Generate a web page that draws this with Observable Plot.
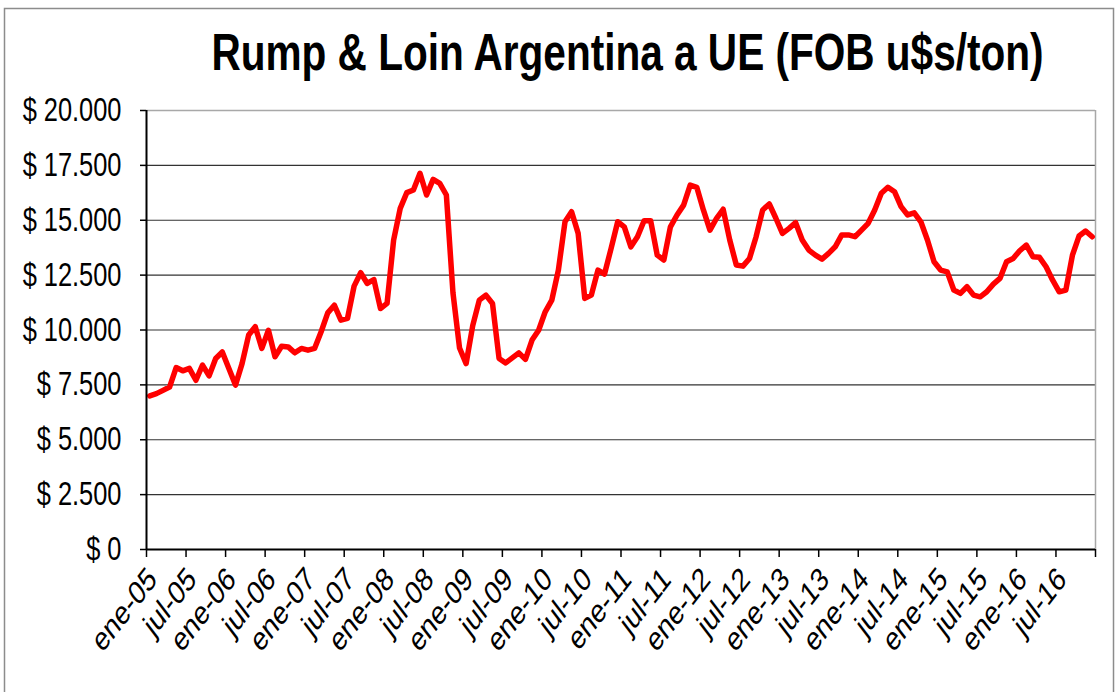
<!DOCTYPE html>
<html><head><meta charset="utf-8">
<script src="https://cdn.jsdelivr.net/npm/d3@7"></script>
<script src="https://cdn.jsdelivr.net/npm/@observablehq/plot@0.6"></script>
<style>body{margin:0;background:#fff;} #chart{position:relative;width:1117px;height:692px;}</style>
</head><body><div id="chart"></div>
<script>
const titleText = "Rump & Loin Argentina a UE (FOB u$s/ton)";
const tickLabels = ["ene-05","jul-05","ene-06","jul-06","ene-07","jul-07","ene-08","jul-08","ene-09","jul-09","ene-10","jul-10","ene-11","jul-11","ene-12","jul-12","ene-13","jul-13","ene-14","jul-14","ene-15","jul-15","ene-16","jul-16"];
const yTicks = [0, 2500, 5000, 7500, 10000, 12500, 15000, 17500, 20000];
// monthly FOB prices (u$s/ton), Jan..Dec
const v2005 = [7000, 7100, 7250, 7400, 8290, 8140, 8250, 7710, 8400, 7910, 8700, 9000];
const v2006 = [8250, 7490, 8470, 9770, 10150, 9160, 9990, 8780, 9260, 9230, 8960, 9160];
const v2007 = [9080, 9160, 9920, 10780, 11130, 10450, 10530, 12000, 12610, 12120, 12300, 10980];
const v2008 = [11210, 14100, 15540, 16260, 16380, 17140, 16150, 16860, 16680, 16150, 11700, 9180];
const v2009 = [8470, 10200, 11360, 11590, 11210, 8700, 8500, 8730, 8960, 8660, 9540, 9990];
const v2010 = [10830, 11360, 12730, 14930, 15390, 14400, 11440, 11590, 12730, 12550, 13720, 14930];
const v2011 = [14700, 13790, 14250, 14980, 14980, 13410, 13190, 14700, 15240, 15690, 16600, 16500];
const v2012 = [15470, 14550, 15090, 15500, 14100, 12960, 12910, 13260, 14250, 15470, 15740, 15090];
const v2013 = [14400, 14630, 14890, 14100, 13640, 13410, 13230, 13490, 13790, 14330, 14330, 14250];
const v2014 = [14550, 14860, 15470, 16230, 16500, 16300, 15620, 15240, 15340, 14930, 14100, 13110];
const v2015 = [12730, 12650, 11820, 11670, 11970, 11590, 11510, 11740, 12090, 12350, 13110, 13260];
const v2016 = [13610, 13870, 13340, 13310, 12880, 12270, 11740, 11820, 13410, 14280, 14510, 14250];

const values = [...v2005, ...v2006, ...v2007, ...v2008, ...v2009, ...v2010, ...v2011, ...v2012, ...v2013, ...v2014, ...v2015, ...v2016];
const data = values.map((v, i) => ({month: i, value: v}));
const xTicks = d3.range(0, 145, 6);
const SX = 0.77;
const fmt = d => "$ " + String(d).replace(/\B(?=(\d{3})+(?!\d))/g, ".");

const plot = Plot.plot({
  width: 1117, height: 692,
  marginLeft: 146, marginRight: 22, marginTop: 110, marginBottom: 143,
  style: {fontFamily: "'Liberation Sans', Arial, sans-serif", background: "#fff", overflow: "visible", color: "#000"},
  x: {type: "linear", domain: [0, 144]},
  y: {domain: [0, 20000]},
  marks: [
    Plot.ruleY(yTicks.filter(d => d > 0 && d < 20000), {stroke: "#333", strokeWidth: 1.2}),
    Plot.ruleY([20000], {stroke: "#a8a8a8", strokeWidth: 1.5}),
    Plot.ruleX([144], {stroke: "#a8a8a8", strokeWidth: 1.5}),
    Plot.line(data, {x: d => d.month + 0.5, y: "value", stroke: "#ff0000", strokeWidth: 5.5, strokeLinejoin: "round"}),
    Plot.ruleX([0], {stroke: "#000", strokeWidth: 2}),
    Plot.ruleY([0], {stroke: "#000", strokeWidth: 2}),
    Plot.axisY({ticks: yTicks, tickFormat: fmt, tickSize: 6, tickPadding: 19, fontSize: 33, label: null, strokeWidth: 1.5}),
    Plot.axisX({ticks: xTicks, tickFormat: () => "", tickSize: 8, label: null, strokeWidth: 1.5}),
    Plot.axisX({ticks: xTicks, tickFormat: d => tickLabels[d / 6] ?? "", tickRotate: -45, tickSize: 0, tickPadding: 24, dx: 6, fontSize: 33, label: null})
  ]
});

const svg = d3.select(plot);
svg.selectAll('g[aria-label="y-axis tick label"] text, g[aria-label="x-axis tick label"] text').each(function() {
  const t = this.getAttribute("transform");
  if (t) {
    const m = t.match(/translate\(([^)]*)\)(.*)/);
    if (m) this.setAttribute("transform", `translate(${m[1]}) scale(${SX},1)${m[2]}`);
  } else {
    const x = +this.getAttribute("x") || 0, y = +this.getAttribute("y") || 0;
    this.removeAttribute("x"); this.removeAttribute("y");
    this.setAttribute("transform", `translate(${x},${y}) scale(${SX},1)`);
  }
});
svg.insert("rect", ":first-child").attr("x", 4.5).attr("y", 8.5).attr("width", 1109).attr("height", 700)
  .attr("fill", "none").attr("stroke", "#8c8c8c").attr("stroke-width", 1.5);
svg.append("text").attr("transform", `translate(627.5,70) scale(0.78,1)`)
  .attr("text-anchor", "middle").attr("font-size", 52).attr("font-weight", "bold")
  .attr("font-family", "'Liberation Sans', Arial, sans-serif").attr("fill", "#000").text(titleText);

document.getElementById("chart").appendChild(plot);
</script>
</body></html>
